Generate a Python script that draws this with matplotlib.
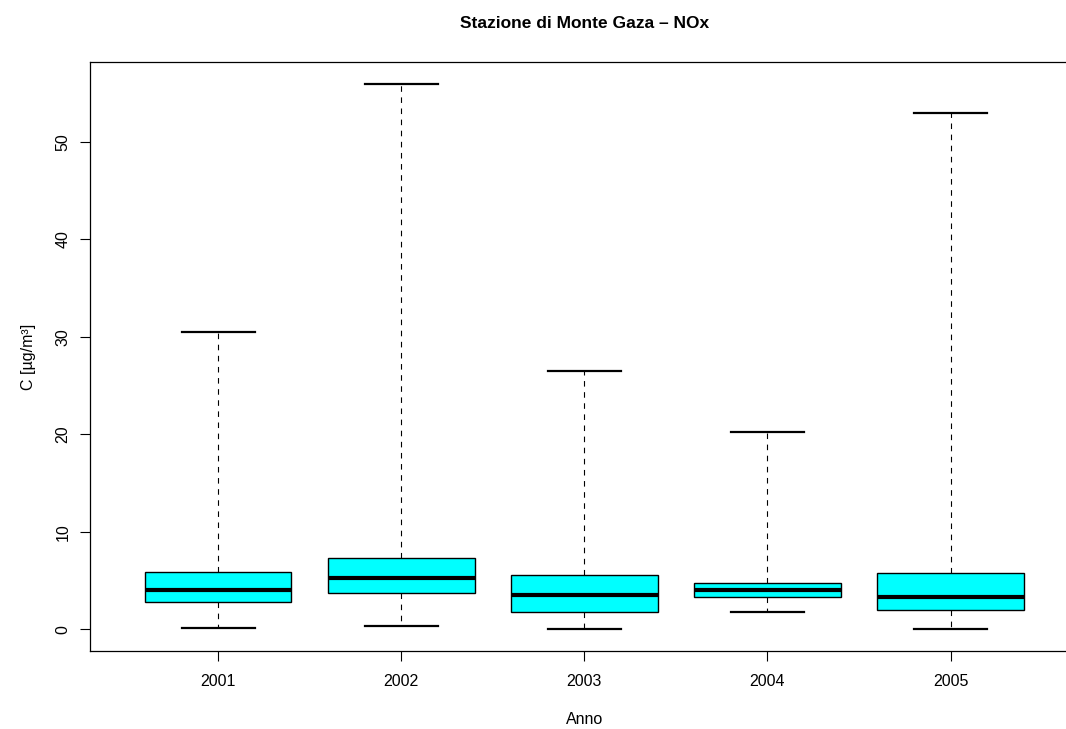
import matplotlib
matplotlib.use("Agg")
import matplotlib.pyplot as plt

plt.rcParams['font.family'] = ['Liberation Sans', 'DejaVu Sans']

years = ["2001", "2002", "2003", "2004", "2005"]
whis_lo = [0.13, 0.34, 0.0, 1.78, 0.0]
q1 = [2.8, 3.7, 1.78, 3.25, 1.95]
medians = [3.97, 5.27, 3.46, 3.97, 3.32]
q3 = [5.9, 7.3, 5.54, 4.69, 5.78]
whis_hi = [30.45, 55.96, 26.5, 20.25, 52.95]

W, H = 1066, 729
fig = plt.figure(figsize=(W / 100, H / 100), dpi=100)
left, right, top, bottom = 90, 90 + 5.4 * 183.1, 62, 651
ax = fig.add_axes([left / W, 1 - bottom / H, (right - left) / W, (bottom - top) / H])

stats = []
for i, y in enumerate(years):
    stats.append(dict(label=y, whislo=whis_lo[i], q1=q1[i], med=medians[i],
                      q3=q3[i], whishi=whis_hi[i], fliers=[]))

positions = list(range(1, len(years) + 1))
ax.bxp(stats, positions=positions, widths=0.8, patch_artist=True,
       showfliers=False,
       boxprops=dict(facecolor='#00FFFF', edgecolor='black', linewidth=1.0),
       medianprops=dict(color='black', linewidth=3.0, solid_capstyle='butt'),
       whiskerprops=dict(color='black', linewidth=0.8, linestyle=(0, (5, 5))),
       capprops=dict(color='black', linewidth=1.6),
       capwidths=0.4)

ax.set_xlim(0.3, 5.7)
ax.set_ylim(-2.24, 58.2)
ax.set_yticks([0, 10, 20, 30, 40, 50])
ax.set_yticklabels(['0', '10', '20', '30', '40', '50'], rotation=90, va='center')
ax.set_xticks(positions)
ax.set_xticklabels(years)
ax.tick_params(axis='both', length=7.2, width=0.8, labelsize=11.5, colors='black')
ax.tick_params(axis='x', pad=9)
ax.tick_params(axis='y', pad=7)
for s in ax.spines.values():
    s.set_linewidth(0.9)

ax.set_xlabel("Anno", fontsize=11.5, labelpad=17)
ax.set_ylabel("C [µg/m³]", fontsize=11.5, labelpad=14)
cx = (left + right) / 2 / W
fig.text(cx, 1 - 24 / H, "Stazione di Monte Gaza – NOx",
         ha='center', va='center', fontsize=12.5, fontweight='bold')

fig.savefig("out.png", dpi=100)
